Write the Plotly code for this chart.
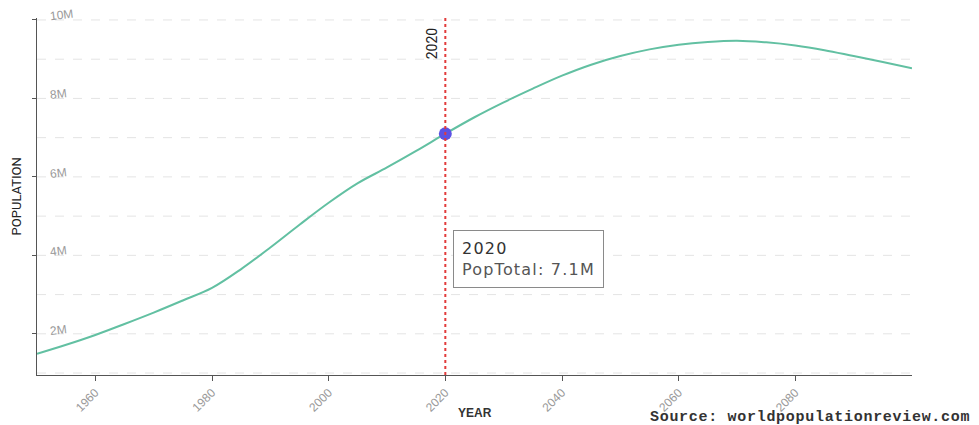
import plotly.graph_objects as go

years = [1950, 1955, 1960, 1965, 1970, 1975, 1980, 1985, 1990, 1995, 2000,
         2005, 2010, 2015, 2020, 2025, 2030, 2035, 2040, 2045, 2050, 2055,
         2060, 2065, 2070, 2075, 2080, 2085, 2090, 2095, 2100]
population = [1.49e6, 1.72e6, 1.97e6, 2.25e6, 2.54e6, 2.85e6, 3.17e6, 3.65e6,
              4.20e6, 4.78e6, 5.34e6, 5.84e6, 6.24e6, 6.66e6, 7.10e6, 7.52e6,
              7.90e6, 8.25e6, 8.58e6, 8.86e6, 9.08e6, 9.25e6, 9.37e6, 9.44e6,
              9.47e6, 9.43e6, 9.35e6, 9.23e6, 9.08e6, 8.93e6, 8.77e6]
highlight_year = 2020
highlight_value = 7.1e6
x_ticks = [1960, 1980, 2000, 2020, 2040, 2060, 2080]
y_ticks = [2e6, 4e6, 6e6, 8e6, 10e6]
y_tick_labels = ["2M", "4M", "6M", "8M", "10M"]
y_grid = [1e6 * k for k in range(1, 11)]

fig = go.Figure()
fig.add_trace(go.Scatter(x=years, y=population, mode="lines",
                         line=dict(color="#62c0a2", width=2, shape="spline", smoothing=1.0),
                         hoverinfo="skip", showlegend=False))
fig.add_trace(go.Scatter(x=[highlight_year], y=[highlight_value], mode="markers",
                         marker=dict(color="#5b52e3", size=13),
                         hoverinfo="skip", showlegend=False))

for g in y_grid:
    fig.add_shape(type="line", xref="paper", x0=0, x1=1, yref="y", y0=g, y1=g,
                  line=dict(color="#e4e4e4", width=1, dash="dash"), layer="below")

for v, lab in zip(y_ticks, y_tick_labels):
    fig.add_annotation(x=0, y=v, xref="paper", yref="y", text=lab,
                       showarrow=False, xanchor="left", yanchor="bottom",
                       xshift=10, yshift=-6, textangle=-7,
                       font=dict(family="Liberation Sans, Arial, sans-serif", size=12, color="#999"))

fig.add_shape(type="line", xref="x", x0=highlight_year, x1=highlight_year,
              yref="paper", y0=0, y1=1,
              line=dict(color="#e23b3b", width=2, dash="dot"))

fig.add_annotation(x=highlight_year, y=1, xref="x", yref="paper",
                   text="2020", textangle=-90, showarrow=False,
                   xanchor="right", yanchor="top", xshift=-3, yshift=-7,
                   font=dict(family="Liberation Sans Narrow, Roboto, sans-serif", size=14, color="#222"))

fig.add_annotation(x=highlight_year, y=3.9e6, xref="x", yref="y",
                   text="<span style='color:#333;letter-spacing:1.2px'>2020</span><br><span style='color:#555;letter-spacing:1.2px'>PopTotal: 7.1M</span>",
                   showarrow=False, xanchor="left", yanchor="middle", xshift=8,
                   align="left", bgcolor="white", bordercolor="#8a8a8a", borderwidth=1,
                   borderpad=8, font=dict(family="DejaVu Sans, sans-serif", size=16, color="#555"))

fig.add_annotation(x=0.5, y=-0.106, xref="paper", yref="paper", text="<b>YEAR</b>",
                   showarrow=False, xanchor="center", yanchor="middle",
                   font=dict(family="Liberation Sans, Arial, sans-serif", size=12, color="#333"))
fig.add_annotation(x=-0.023, y=0.5, xref="paper", yref="paper", text="POPULATION",
                   textangle=-90, showarrow=False, xanchor="center", yanchor="middle",
                   font=dict(family="Liberation Sans Narrow, Roboto, sans-serif", size=13, color="#222"))
fig.add_annotation(x=1.068, y=-0.12, xref="paper", yref="paper",
                   text="<span style='letter-spacing:0.7px'><b>Source: worldpopulationreview.com</b></span>",
                   showarrow=False, xanchor="right", yanchor="middle",
                   font=dict(family="Liberation Mono, monospace", size=15, color="#333"))

fig.update_xaxes(range=[1950, 2100], tickvals=x_ticks, tickangle=-45,
                 showgrid=False, zeroline=False, showline=True, linecolor="#555",
                 linewidth=1, ticks="outside", ticklen=5, tickcolor="#555",
                 tickfont=dict(family="Liberation Sans, Arial, sans-serif", size=12, color="#999"))
fig.update_yaxes(range=[0.95e6, 10.05e6], tickvals=y_ticks, showticklabels=False,
                 showgrid=False, zeroline=False, showline=True, linecolor="#555",
                 linewidth=1, ticks="outside", ticklen=4, tickcolor="#555")

fig.update_layout(width=971, height=417, margin=dict(l=29, r=67, t=10, b=50),
                  plot_bgcolor="white", paper_bgcolor="white")

fig.write_html("out.html")
